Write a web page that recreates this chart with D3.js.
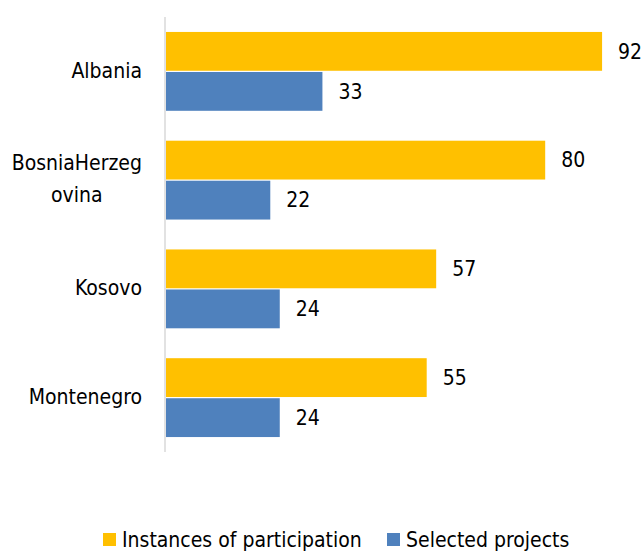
<!DOCTYPE html>
<html>
<head>
<meta charset="utf-8">
<script src="https://cdn.jsdelivr.net/npm/d3@7"></script>
<style>
  body { margin: 0; background: #fff; }
  text { font-family: "DejaVu Sans Condensed", "DejaVu Sans", sans-serif; font-stretch: condensed; fill: #000; }
</style>
</head>
<body>
<div id="chart"></div>
<script>
const width = 643, height = 551;

const categories = ["Albania", "BosniaHerzegovina", "Kosovo", "Montenegro"];
const seriesNames = ["Instances of participation", "Selected projects"];
const participation = [92, 80, 57, 55];
const selected = [33, 22, 24, 24];
const colors = ["#FFC000", "#4F81BD"];

const margin = { top: 17, right: 3, bottom: 99, left: 166 };

const svg = d3.select("#chart")
    .append("svg")
    .attr("width", width)
    .attr("height", height);

const x = d3.scaleLinear()
    .domain([0, 100])
    .range([margin.left, width - margin.right]);

const y0 = d3.scaleBand()
    .domain(categories)
    .range([margin.top, height - margin.bottom])
    .paddingInner(0.275)
    .paddingOuter(0.1375);

const y1 = d3.scaleBand()
    .domain(seriesNames)
    .range([0, y0.bandwidth()])
    .paddingInner(0.03);

const rows = categories.map((c, i) => ({
    category: c,
    values: [
        { key: seriesNames[0], value: participation[i], color: colors[0] },
        { key: seriesNames[1], value: selected[i], color: colors[1] }
    ]
}));

const groups = svg.selectAll("g.cat")
    .data(rows)
    .enter().append("g")
    .attr("class", "cat")
    .attr("transform", d => `translate(0,${y0(d.category)})`);

groups.selectAll("rect")
    .data(d => d.values)
    .enter().append("rect")
    .attr("x", x(0))
    .attr("y", d => y1(d.key))
    .attr("width", d => x(d.value) - x(0))
    .attr("height", y1.bandwidth())
    .attr("fill", d => d.color);

// value labels
groups.selectAll("text.val")
    .data(d => d.values)
    .enter().append("text")
    .attr("class", "val")
    .attr("x", d => x(d.value) + 16)
    .attr("y", d => y1(d.key) + y1.bandwidth() / 2)
    .attr("dy", "0.35em")
    .style("font-size", "21px")
    .text(d => d.value);

// axis line
svg.append("line")
    .attr("x1", margin.left - 1)
    .attr("x2", margin.left - 1)
    .attr("y1", margin.top)
    .attr("y2", height - margin.bottom)
    .attr("stroke", "#D9D9D9")
    .attr("stroke-width", 1.5);

// category labels, long names wrapped like the original
function wrapLabel(s, maxChars) {
    const lines = [];
    for (let i = 0; i < s.length; i += maxChars) lines.push(s.slice(i, i + maxChars));
    return lines;
}

const lineH = 32;
categories.forEach(c => {
    const lines = wrapLabel(c, 12);
    const cy = y0(c) + y0.bandwidth() / 2 - 1;
    const t = svg.append("text")
        .attr("text-anchor", "middle")
        .style("font-size", "21px");
    lines.forEach((l, j) => {
        t.append("tspan")
            .attr("x", 0)
            .attr("y", cy + (j - (lines.length - 1) / 2) * lineH)
            .attr("dy", "0.35em")
            .text(l);
    });
    // right-align the block, centre the lines inside it
    const w = t.node().getBBox().width;
    t.selectAll("tspan").attr("x", 142 - w / 2);
});

// legend
const legendX = [103, 387];
const legend = svg.selectAll("g.legend")
    .data(seriesNames)
    .enter().append("g")
    .attr("class", "legend")
    .attr("transform", (d, i) => `translate(${legendX[i]},533)`);

legend.append("rect")
    .attr("width", 13)
    .attr("height", 13)
    .attr("fill", (d, i) => colors[i]);

legend.append("text")
    .attr("x", 19)
    .attr("y", 6.5)
    .attr("dy", "0.35em")
    .style("font-size", "21px")
    .text(d => d);
</script>
</body>
</html>
